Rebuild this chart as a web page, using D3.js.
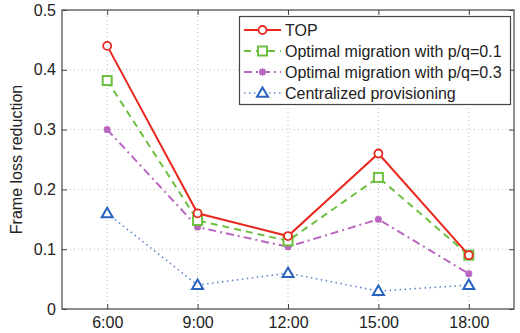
<!DOCTYPE html>
<html>
<head>
<meta charset="utf-8">
<script src="https://cdn.jsdelivr.net/npm/d3@7"></script>
<style>
  body { margin: 0; background: #fff; }
  text { font-family: "Liberation Sans", Arial, sans-serif; fill: #222; }
</style>
</head>
<body>
<div id="chart"></div>
<script>
const hours = [6, 9, 12, 15, 18];
const tickLabels = ["6:00", "9:00", "12:00", "15:00", "18:00"];
const yTicks = [0, 0.1, 0.2, 0.3, 0.4, 0.5];
const topVals = [0.44, 0.16, 0.122, 0.26, 0.09];
const opt01Vals = [0.382, 0.148, 0.114, 0.22, 0.09];
const opt03Vals = [0.30, 0.137, 0.104, 0.15, 0.059];
const centralVals = [0.16, 0.04, 0.06, 0.03, 0.04];
const seriesNames = ["TOP", "Optimal migration with p/q=0.1", "Optimal migration with p/q=0.3", "Centralized provisioning"];

const width = 520, height = 333;
const margin = {left: 62, right: 6, top: 10, bottom: 24};

const svg = d3.select("#chart").append("svg").attr("width", width).attr("height", height);

let x = d3.scaleLinear().domain([4.5, 19.5]).range([margin.left, width - margin.right]);
let y = d3.scaleLinear().domain([0, 0.5]).range([height - margin.bottom, margin.top]);

const series = [
  {name: seriesNames[0], vals: topVals, color: "#e8281e", dash: null, lw: 2, marker: "circle"},
  {name: seriesNames[1], vals: opt01Vals, color: "#6cbf3f", dash: "7,5", lw: 2, marker: "square"},
  {name: seriesNames[2], vals: opt03Vals, color: "#b866c0", dash: "8,4,2,4", lw: 2, marker: "star"},
  {name: seriesNames[3], vals: centralVals, color: "#2a62c0", dash: "1.5,3.5", lw: 1.6, marker: "triangle", lineColor: "#5b86cc"}
];

// grid
const grid = svg.append("g").attr("stroke", "#bbb").attr("stroke-width", 1).attr("stroke-dasharray", "1,3");
grid.selectAll(".vx").data(hours).join("line")
  .attr("x1", d => x(d)).attr("x2", d => x(d))
  .attr("y1", y(0)).attr("y2", y(0.5));
grid.selectAll(".hy").data(yTicks.slice(1, -1)).join("line")
  .attr("x1", x.range()[0]).attr("x2", x.range()[1])
  .attr("y1", d => y(d)).attr("y2", d => y(d));

// axes (MATLAB style box with inward ticks)
const xAxis = d3.axisBottom(x).tickValues(hours).tickFormat((d, i) => tickLabels[i]).tickSizeInner(-5).tickSizeOuter(0).tickPadding(8);
const yAxis = d3.axisLeft(y).tickValues(yTicks).tickFormat(d => d === 0 ? "0" : d3.format(".1f")(d)).tickSizeInner(-5).tickSizeOuter(0).tickPadding(6);
const xTop = d3.axisTop(x).tickValues(hours).tickFormat("").tickSizeInner(-5).tickSizeOuter(0);
const yRight = d3.axisRight(y).tickValues(yTicks).tickFormat("").tickSizeInner(-5).tickSizeOuter(0);

function styleAxis(g) {
  g.select(".domain").remove();
  g.selectAll(".tick line").attr("stroke", "#444");
  g.selectAll(".tick text").attr("font-size", "16px").attr("fill", "#222")
    .attr("font-family", '"Liberation Sans", Arial, sans-serif');
}
svg.append("g").attr("transform", `translate(0,${y(0)})`).call(xAxis).call(styleAxis);
svg.append("g").attr("transform", `translate(${x.range()[0]},0)`).call(yAxis).call(styleAxis);
svg.append("g").attr("transform", `translate(0,${y(0.5)})`).call(xTop).call(styleAxis);
svg.append("g").attr("transform", `translate(${x.range()[1]},0)`).call(yRight).call(styleAxis);

svg.append("rect")
  .attr("x", x.range()[0]).attr("y", y(0.5))
  .attr("width", x.range()[1] - x.range()[0]).attr("height", y(0) - y(0.5))
  .attr("fill", "none").attr("stroke", "#444").attr("stroke-width", 1.2);

svg.append("text")
  .attr("transform", `translate(22,${(y(0) + y(0.5)) / 2}) rotate(-90)`)
  .attr("text-anchor", "middle")
  .attr("font-size", "16px")
  .text("Frame loss reduction");

function drawMarker(g, type, color, cx, cy) {
  if (type === "circle") {
    g.append("circle").attr("cx", cx).attr("cy", cy).attr("r", 4)
      .attr("fill", "#fff").attr("stroke", color).attr("stroke-width", 1.8);
  } else if (type === "square") {
    g.append("rect").attr("x", cx - 4.5).attr("y", cy - 4.5).attr("width", 9).attr("height", 9)
      .attr("fill", "#fff").attr("stroke", color).attr("stroke-width", 2);
  } else if (type === "star") {
    const s = 3.5;
    g.append("path")
      .attr("d", `M${cx - s},${cy}L${cx + s},${cy}M${cx},${cy - s}L${cx},${cy + s}M${cx - s * 0.75},${cy - s * 0.75}L${cx + s * 0.75},${cy + s * 0.75}M${cx - s * 0.75},${cy + s * 0.75}L${cx + s * 0.75},${cy - s * 0.75}`)
      .attr("stroke", color).attr("stroke-width", 2.2);
  } else if (type === "triangle") {
    const s = 5.5;
    g.append("path")
      .attr("d", `M${cx},${cy - s}L${cx + s},${cy + s * 0.7}L${cx - s},${cy + s * 0.7}Z`)
      .attr("fill", "#fff").attr("stroke", color).attr("stroke-width", 2);
  }
}

const line = d3.line().x(d => x(d[0])).y(d => y(d[1]));

// draw back to front: centralized first, TOP last
series.slice().reverse().forEach(s => {
  const pts = hours.map((h, i) => [h, s.vals[i]]);
  const g = svg.append("g");
  g.append("path").datum(pts).attr("d", line)
    .attr("fill", "none").attr("stroke", s.lineColor || s.color)
    .attr("stroke-width", s.lw).attr("stroke-dasharray", s.dash);
  pts.forEach(p => drawMarker(g, s.marker, s.color, x(p[0]), y(p[1])));
});

// legend
const lg = svg.append("g");
lg.append("rect").attr("x", 239.5).attr("y", 16.5).attr("width", 271).attr("height", 88)
  .attr("fill", "#fff").attr("stroke", "#444").attr("stroke-width", 1.2);
series.forEach((s, i) => {
  const ly = 30 + i * 21;
  const row = lg.append("g");
  row.append("line").attr("x1", 244).attr("x2", 281).attr("y1", ly).attr("y2", ly)
    .attr("stroke", s.lineColor || s.color).attr("stroke-width", s.lw).attr("stroke-dasharray", s.dash);
  drawMarker(row, s.marker, s.color, 262.5, ly);
  row.append("text").attr("x", 285).attr("y", ly).attr("dy", "0.35em")
    .attr("font-size", "16px").text(s.name);
});
</script>
</body>
</html>
